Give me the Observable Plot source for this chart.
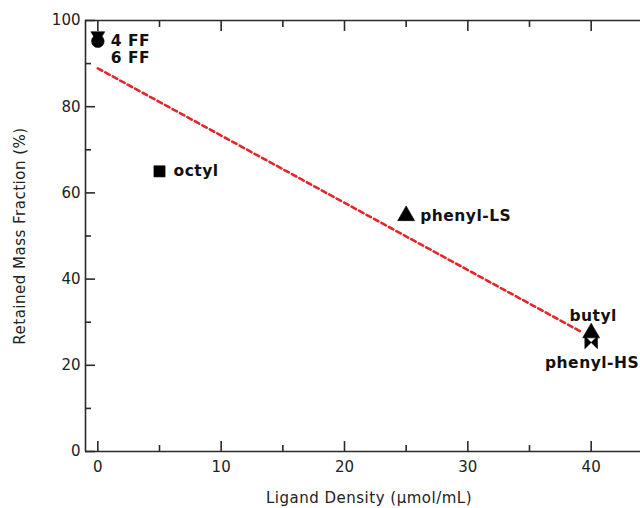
<!DOCTYPE html>
<html>
<head>
<meta charset="utf-8">
<script src="https://cdn.jsdelivr.net/npm/d3@7"></script>
<script src="https://cdn.jsdelivr.net/npm/@observablehq/plot@0.6"></script>
<style>
  html, body { margin: 0; padding: 0; background: #fff; overflow: hidden; }
  #chart svg text.lbl, #chart svg .lbl text { letter-spacing: 0.5px; }
</style>
</head>
<body>
<div id="chart"></div>
<script>
// ---- data ----
const ligands   = ["4 FF", "6 FF", "octyl", "phenyl-LS", "butyl", "phenyl-HS"];
const density   = [0, 0, 5, 25, 40, 40];          // µmol/mL
const retained  = [95.2, 96.3, 65, 54.7, 27.5, 25.3]; // %
const fitX = [0, 39.3];
const fitY = [88.9, 27.6];
const xMajor = [0, 10, 20, 30, 40];
const xMinor = [5, 15, 25, 35];
const yMajor = [0, 20, 40, 60, 80, 100];
const yMinor = [10, 30, 50, 70, 90];
const xDomain = [-1, 44];
const yDomain = [0, 100];
const xTitle = "Ligand Density (\u00b5mol/mL)";
const yTitle = "Retained Mass Fraction (%)";

const points = ligands.map((name, i) => ({name, x: density[i], y: retained[i]}));
const fit = fitX.map((x, i) => ({x, y: fitY[i]}));

// custom symbols
const bowtie = {
  draw(context, size) {
    const r = Math.sqrt(size / Math.PI);
    context.moveTo(-r, -r); context.lineTo(0, 0); context.lineTo(-r, r); context.closePath();
    context.moveTo(r, -r); context.lineTo(0, 0); context.lineTo(r, r); context.closePath();
  }
};
const triangleDown = {
  draw(context, size) {
    const r = Math.sqrt(size / Math.PI);
    context.moveTo(-r * 1.1, -r * 0.75); context.lineTo(r * 1.1, -r * 0.75); context.lineTo(0, r * 1.1); context.closePath();
  }
};

// label placement (style)
const place = {
  "4 FF":      {dx: 13, dy: 0,   anchor: "start"},
  "6 FF":      {dx: 13, dy: 22,  anchor: "start"},
  "octyl":     {dx: 14, dy: 0,   anchor: "start"},
  "phenyl-LS": {dx: 14, dy: 0,   anchor: "start"},
  "butyl":     {dx: 2,  dy: -17, anchor: "middle"},
  "phenyl-HS": {dx: 48, dy: 21,  anchor: "end"}
};

const axisColor = "#2a2a2a";
const labelMarks = ligands.map(n => Plot.text(points.filter(d => d.name === n), {
  x: "x", y: "y", text: "name",
  dx: place[n].dx, dy: place[n].dy, textAnchor: place[n].anchor,
  fontWeight: "bold", fontSize: 15.5, fill: "#111", className: "lbl"
}));

const chart = Plot.plot({
  width: 640,
  height: 508,
  marginLeft: 85,
  marginRight: 0,
  marginTop: 20,
  marginBottom: 57,
  style: {fontFamily: "DejaVu Sans, sans-serif", fontSize: "15px", color: "#222", background: "#fff", overflow: "visible"},
  x: {domain: xDomain},
  y: {domain: yDomain},
  symbol: {domain: ligands, range: ["circle", triangleDown, "square", "triangle", "triangle", bowtie]},
  marks: [
    // frame lines
    Plot.ruleY(yDomain, {stroke: axisColor, strokeWidth: 1.6}),
    Plot.ruleX([xDomain[0]], {stroke: axisColor, strokeWidth: 1.6}),
    // ticks (inward)
    Plot.axisX({anchor: "bottom", ticks: xMajor, tickSize: -10, tickFormat: () => "", label: null, stroke: axisColor, strokeWidth: 1.6}),
    Plot.axisX({anchor: "bottom", ticks: xMinor, tickSize: -6, tickFormat: () => "", label: null, stroke: axisColor, strokeWidth: 1.6}),
    Plot.axisX({anchor: "top", ticks: xMajor, tickSize: -10, tickFormat: () => "", label: null, stroke: axisColor, strokeWidth: 1.6}),
    Plot.axisX({anchor: "top", ticks: xMinor, tickSize: -6, tickFormat: () => "", label: null, stroke: axisColor, strokeWidth: 1.6}),
    Plot.axisY({anchor: "left", ticks: yMajor, tickSize: -10, tickFormat: () => "", label: null, stroke: axisColor, strokeWidth: 1.6}),
    Plot.axisY({anchor: "left", ticks: yMinor, tickSize: -6, tickFormat: () => "", label: null, stroke: axisColor, strokeWidth: 1.6}),
    // tick labels
    Plot.axisX({anchor: "bottom", ticks: xMajor, tickSize: 0, tickPadding: 10, label: null, fill: "#222"}),
    Plot.axisY({anchor: "left", ticks: yMajor, tickSize: 0, tickPadding: 5, label: null, fill: "#222"}),
    // axis titles
    Plot.text([xTitle], {frameAnchor: "bottom", dx: 6, dy: 47, lineAnchor: "middle", textAnchor: "middle", fill: "#222", fontSize: 15, className: "lbl"}),
    Plot.text([yTitle], {frameAnchor: "left", dx: -65, rotate: -90, lineAnchor: "middle", textAnchor: "middle", fill: "#222", fontSize: 15, className: "lbl"}),
    // fit line
    Plot.line(fit, {x: "x", y: "y", stroke: "#e3262c", strokeWidth: 2.6, strokeDasharray: "5,3.5"}),
    // points
    Plot.dot(points, {x: "x", y: "y", symbol: "name", r: 6.3, fill: "#000", stroke: "#000", strokeWidth: 0.6}),
    ...labelMarks
  ]
});
document.getElementById("chart").appendChild(chart);
</script>
</body>
</html>
